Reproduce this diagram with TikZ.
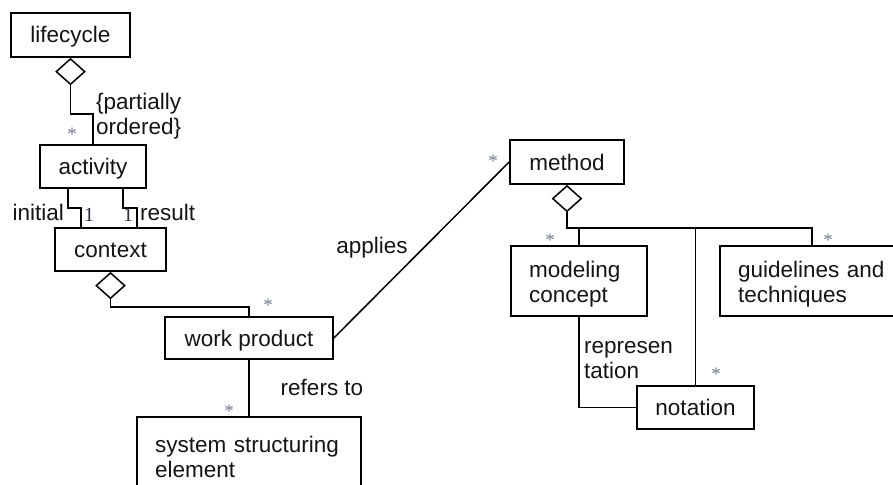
\documentclass[tikz,border=0pt]{standalone}
\usepackage{fontspec}
\setmainfont{Liberation Sans}
\newfontfamily\serifnum{Liberation Serif}
\usetikzlibrary{shapes.geometric}
\definecolor{starc}{RGB}{110,120,140}
\definecolor{onec}{RGB}{40,45,60}
\definecolor{txt}{RGB}{20,20,20}
\newcommand{\mainsz}{\fontsize{22.5}{25}\selectfont}
\tikzset{
  x=1pt, y=-1pt,
  box/.style={draw, line width=1.7pt, inner sep=0pt, font=\mainsz, text=txt, align=center, text height=17pt, text depth=1pt},
  mbox/.style={draw, line width=1.7pt, inner sep=0pt, font=\mainsz, text=txt, align=left, inner xsep=18pt},
  agg/.style={draw, line width=1.5pt, shape=diamond, inner sep=0pt, minimum width=29pt, minimum height=26pt, fill=white},
  conn/.style={line width=1.5pt},
  lbl/.style={font=\mainsz, text=txt, inner sep=0pt, align=left},
  mult/.style={font=\serifnum\fontsize{19}{19}\selectfont, text=starc, inner sep=0pt},
  one/.style={font=\serifnum\fontsize{20}{20}\selectfont, text=onec, inner sep=0pt},
}
\begin{document}
\begin{tikzpicture}
\useasboundingbox (0,0) rectangle (893,484);
% boxes
\node[box, minimum width=119pt, minimum height=44pt] (lifecycle) at (70.5,35) {lifecycle};
\node[box, minimum width=106pt, minimum height=43pt] (activity) at (93,166.5) {activity};
\node[box, minimum width=111pt, minimum height=43pt] (context) at (110.5,249.5) {context};
\node[box, minimum width=168pt, minimum height=42pt] (wp) at (249,338) {work product};
\node[mbox, text width=188pt, minimum height=75pt] (sse) at (249,454.5) {\rule{0pt}{22pt}system structuring\\element};
\node[box, minimum width=114pt, minimum height=44pt] (method) at (567,162) {method};
\node[mbox, text width=100pt, minimum height=70pt] (modeling) at (579,281) {\rule{0pt}{22pt}modeling\\concept};
\node[mbox, text width=150pt, minimum height=70pt] (guide) at (813,281) {\rule{0pt}{22pt}guidelines and\\techniques};
\node[box, minimum width=117pt, minimum height=43pt] (notation) at (695.5,407.5) {notation};
% aggregation diamonds
\node[agg, anchor=north] (d1) at (lifecycle.south) {};
\node[agg, anchor=north] (d2) at (context.south) {};
\node[agg, anchor=north] (d3) at (method.south) {};
% lifecycle - activity
\coordinate (a1) at (70.5,114);
\coordinate (a2) at (93,114);
\draw[conn] (d1.south) -- (a1) -- (a2) -- (activity.north);
% activity - context
\coordinate (i1) at (68,208);
\coordinate (i2) at (81,208);
\draw[conn] (activity.south -| i1) -- (i1) -- (i2) -- (context.north -| i2);
\coordinate (r1) at (123,208);
\coordinate (r2) at (137,208);
\draw[conn] (activity.south -| r1) -- (r1) -- (r2) -- (context.north -| r2);
% context - work product
\coordinate (c1) at (110.5,307);
\coordinate (c2) at (249,307);
\draw[conn] (d2.south) -- (c1) -- (c2) -- (wp.north);
% work product - sse
\draw[conn] (wp.south) -- (sse.north);
% applies
\draw[conn] (wp.east) -- (method.west);
% method tree
\coordinate (m1) at (567,228);
\coordinate (m4) at (812,228);
\draw[conn] (d3.south) -- (m1) -- (m4) -- (guide.north -| m4);
\draw[conn] (modeling.north) -- (modeling.north |- m1);
\draw[conn] (notation.north) -- (notation.north |- m1);
% representation
\draw[conn] (modeling.south) |- (notation.west);
% labels
\node[lbl, anchor=west] (lpo) at (96,116) {\{partially\\ordered\}};
\node[lbl, anchor=east] (linit) at (64,212) {initial};
\node[lbl, anchor=west] (lres) at (140,212) {result};
\node[lbl] (lapp) at (372,248) {applies};
\node[lbl] (lref) at (322,387) {refers to};
\node[lbl, anchor=west] (lrep) at (584,360) {represen\\tation};
\node[one] (o1) at (89,215) {1};
\node[one] (o2) at (128,215) {1};
% multiplicities
\node[mult] (s1) at (72,134) {*};
\node[mult] (s2) at (268,305) {*};
\node[mult] (s3) at (229,411) {*};
\node[mult] (s4) at (493,161) {*};
\node[mult] (s5) at (550,240) {*};
\node[mult] (s6) at (828,240) {*};
\node[mult] (s7) at (716,374) {*};
\end{tikzpicture}
\end{document}
